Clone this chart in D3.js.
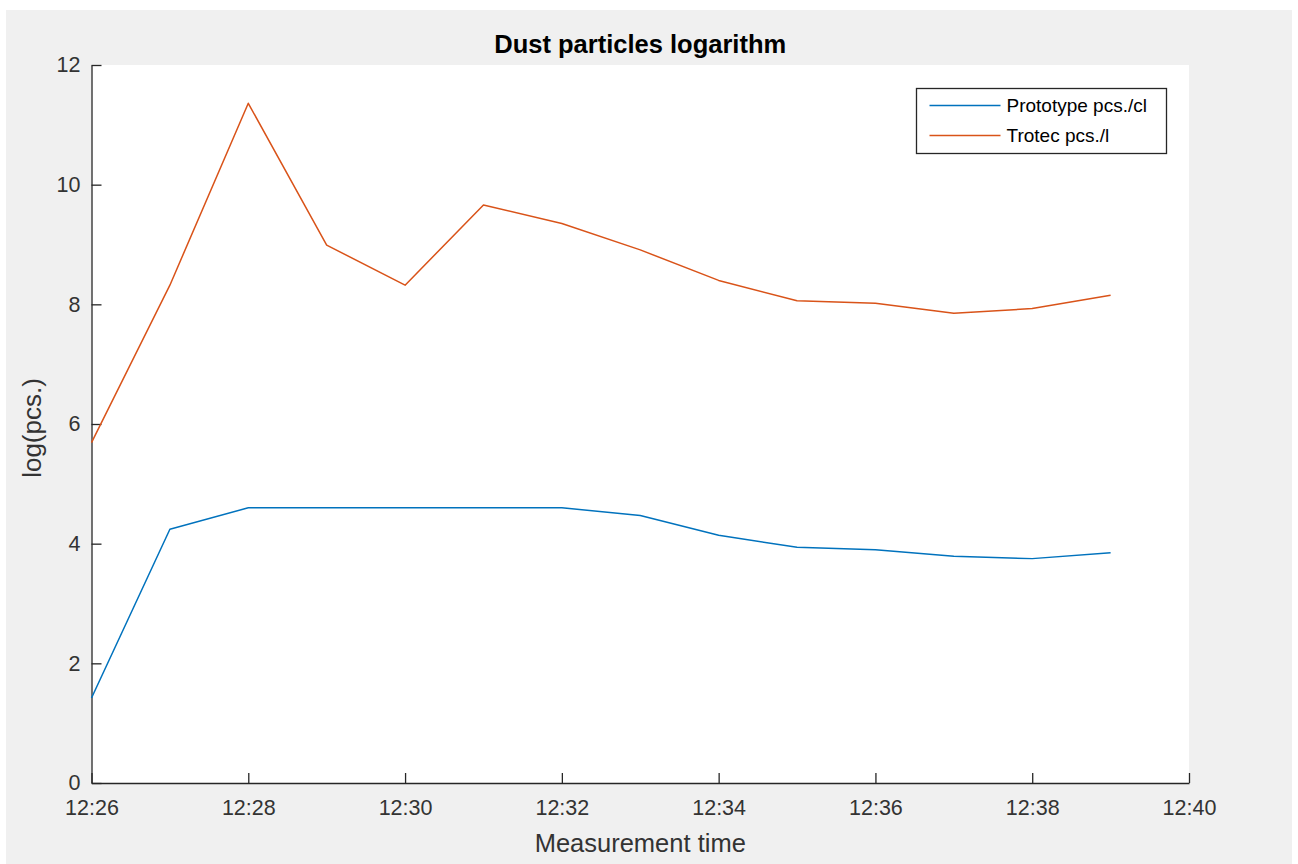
<!DOCTYPE html>
<html>
<head>
<meta charset="utf-8">
<script src="https://cdn.jsdelivr.net/npm/d3@7"></script>
<style>
  body { margin: 0; background: #fff; }
  svg { display: block; font-family: "Liberation Sans", Arial, sans-serif; }
</style>
</head>
<body>
<div id="chart"></div>
<script>
// measurement times (minutes after 12:00)
const minutes = [26, 27, 28, 29, 30, 31, 32, 33, 34, 35, 36, 37, 38, 39];
const prototype = [1.42, 4.24, 4.60, 4.60, 4.60, 4.60, 4.60, 4.47, 4.14, 3.94, 3.90, 3.79, 3.75, 3.85];
const trotec = [5.69, 8.32, 11.36, 8.99, 8.32, 9.66, 9.35, 8.91, 8.40, 8.06, 8.02, 7.85, 7.93, 8.15];
const yTicks = [0, 2, 4, 6, 8, 10, 12];
const seriesNames = ["Prototype pcs./cl", "Trotec pcs./l"];

const W = 1298, H = 864;
const margin = { top: 65, right: 109, bottom: 81, left: 91.5 };
const width = W - margin.left - margin.right;
const height = H - margin.top - margin.bottom;

const toDate = m => new Date(2020, 0, 1, 12, m);

const svg = d3.select("#chart").append("svg")
  .attr("width", W)
  .attr("height", H);

// figure background
svg.append("rect")
  .attr("x", 6).attr("y", 10)
  .attr("width", W - 12).attr("height", H - 10)
  .attr("fill", "#f0f0f0");

const g = svg.append("g")
  .attr("transform", `translate(${margin.left},${margin.top})`);

g.append("rect")
  .attr("width", width)
  .attr("height", height)
  .attr("fill", "#fff");

const x = d3.scaleTime()
  .domain([toDate(26), toDate(40)])
  .range([0, width]);

const y = d3.scaleLinear()
  .domain([0, 12])
  .range([height, 0]);

// Axes
const xAxis = g.append("g")
  .attr("transform", `translate(0,${height})`)
  .call(d3.axisBottom(x)
    .ticks(d3.timeMinute.every(2))
    .tickFormat(d3.timeFormat("%H:%M"))
    .tickSizeInner(-10)
    .tickSizeOuter(0)
    .tickPadding(17));

const yAxis = g.append("g")
  .call(d3.axisLeft(y)
    .tickValues(yTicks)
    .tickSizeInner(-10)
    .tickSizeOuter(0)
    .tickPadding(11));

[xAxis, yAxis].forEach(ax => {
  ax.select(".domain").attr("stroke", "#262626").attr("stroke-width", 1.3);
  ax.selectAll(".tick line").attr("stroke", "#262626").attr("stroke-width", 1.3);
  ax.selectAll(".tick text")
    .attr("fill", "#333")
    .style("font-size", "21.5px")
    .style("font-family", "'Liberation Sans', Arial, sans-serif");
});

// Axis labels
g.append("text")
  .attr("text-anchor", "middle")
  .attr("x", width / 2)
  .attr("y", height + 69)
  .attr("fill", "#333")
  .style("font-size", "25.5px")
  .text("Measurement time");

g.append("text")
  .attr("text-anchor", "middle")
  .attr("transform", "rotate(-90)")
  .attr("x", -height / 2 - 4)
  .attr("y", -51)
  .attr("fill", "#333")
  .style("font-size", "26px")
  .text("log(pcs.)");

// Title
g.append("text")
  .attr("text-anchor", "middle")
  .attr("x", width / 2)
  .attr("y", -12)
  .attr("fill", "#000")
  .style("font-size", "25.5px")
  .style("font-weight", "bold")
  .text("Dust particles logarithm");

// Lines
const colors = ["#0072BD", "#D95319"];
const line = d3.line()
  .x((d, i) => x(toDate(minutes[i])))
  .y(d => y(d));

[prototype, trotec].forEach((vals, k) => {
  g.append("path")
    .datum(vals)
    .attr("fill", "none")
    .attr("stroke", colors[k])
    .attr("stroke-width", 1.5)
    .attr("stroke-linejoin", "round")
    .attr("d", line);
});

// Legend
const lg = g.append("g")
  .attr("transform", `translate(${916.5 - margin.left},${88.5 - margin.top})`);

lg.append("rect")
  .attr("width", 250)
  .attr("height", 65)
  .attr("fill", "#fff")
  .attr("stroke", "#262626")
  .attr("stroke-width", 1.3);

seriesNames.forEach((name, i) => {
  const ly = 17 + i * 30;
  lg.append("line")
    .attr("x1", 13).attr("x2", 84)
    .attr("y1", ly).attr("y2", ly)
    .attr("stroke", colors[i])
    .attr("stroke-width", 1.5);
  lg.append("text")
    .attr("x", 90)
    .attr("y", ly)
    .attr("dy", "0.35em")
    .attr("fill", "#000")
    .style("font-size", "19px")
    .text(name);
});
</script>
</body>
</html>
